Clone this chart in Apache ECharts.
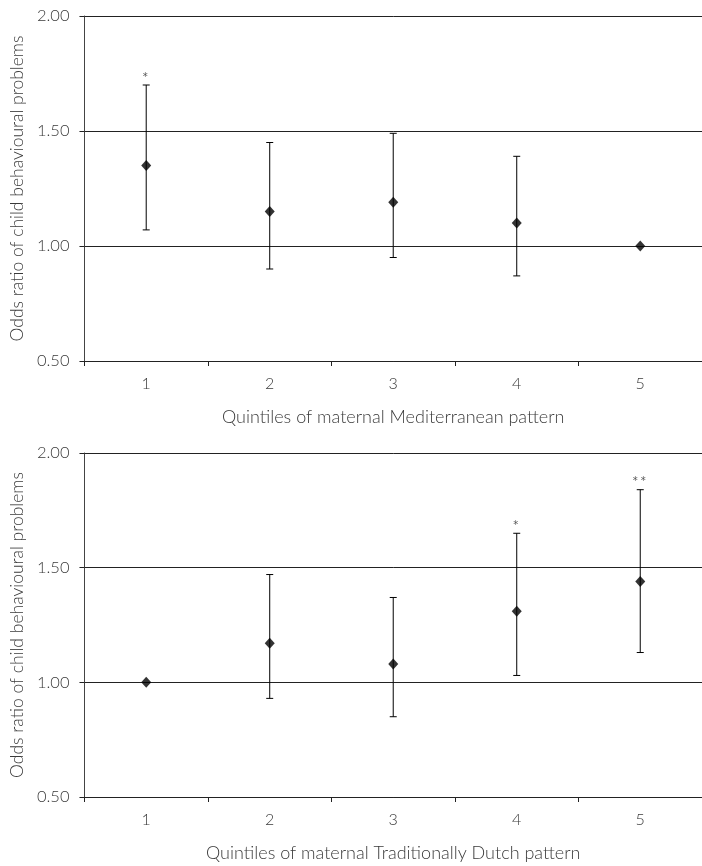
<!DOCTYPE html>
<html>
<head>
<meta charset="utf-8">
<script src="https://cdn.jsdelivr.net/npm/echarts@6/dist/echarts.min.js"></script>
<style>
  html, body { margin: 0; padding: 0; background: #fff; }
  #chart { width: 702px; height: 866px; }
</style>
</head>
<body>
<div id="chart"></div>
<script>
// data
const quintiles = ['1', '2', '3', '4', '5']
const yTicks = [0.5, 1.0, 1.5, 2.0]

const medOR = [1.35, 1.15, 1.19, 1.10, 1.00]
const medLo = [1.07, 0.90, 0.95, 0.87, null]
const medHi = [1.70, 1.45, 1.49, 1.39, null]
const medSig = ['*', '', '', '', '']

const dutchOR = [1.00, 1.17, 1.08, 1.31, 1.44]
const dutchLo = [null, 0.93, 0.85, 1.03, 1.13]
const dutchHi = [null, 1.47, 1.37, 1.65, 1.84]
const dutchSig = ['', '', '', '*', '**']

const FONT = 'Lato'
const TXT = '#3a3a3a'

const chart = echarts.init(document.getElementById('chart'))

const xAxisFor = (gridIndex, name) => ({
    type: 'category',
    gridIndex: gridIndex,
    data: quintiles,
    boundaryGap: true,
    name: name,
    nameLocation: 'middle',
    nameGap: 47,
    nameTextStyle: { color: TXT, fontFamily: FONT, fontWeight: 300, fontSize: 18 },
    axisLine: { show: true, lineStyle: { color: '#222', width: 1 } },
    axisTick: { show: true, length: 5, inside: false, alignWithLabel: false, lineStyle: { color: '#222' } },
    axisLabel: { color: TXT, fontFamily: FONT, fontWeight: 300, fontSize: 16, margin: 15 },
    splitLine: { show: false },
})

const yAxisFor = (gridIndex) => ({
    type: 'value',
    gridIndex: gridIndex,
    min: yTicks[0],
    max: yTicks[yTicks.length - 1],
    interval: 0.5,
    name: 'Odds ratio of child behavioural problems',
    nameLocation: 'middle',
    nameGap: 56,
    nameTextStyle: { color: TXT, fontFamily: FONT, fontWeight: 300, fontSize: 17.5 },
    axisLine: { show: true, lineStyle: { color: '#444', width: 1 } },
    axisTick: { show: true, length: 5, inside: false, lineStyle: { color: '#222' } },
    axisLabel: {
        color: TXT, fontFamily: FONT, fontWeight: 300, fontSize: 16.5, margin: 15,
        formatter: (v) => v.toFixed(2),
    },
    splitLine: { show: true, lineStyle: { color: '#222', width: 1 } },
})

// error bars + significance stars, drawn through the axis scales
const errorSeries = (idx, lo, hi, sig) => ({
    type: 'custom',
    xAxisIndex: idx,
    yAxisIndex: idx,
    z: 3,
    data: quintiles.map((q, i) => [i, lo[i], hi[i], sig[i]]),
    renderItem: function (params, api) {
        const i = api.value(0)
        const l = lo[i]
        const h = hi[i]
        if (l == null || h == null) return null
        const top = api.coord([i, h])
        const bot = api.coord([i, l])
        const cap = 3.5
        const style = { stroke: '#000', lineWidth: 1 }
        const children = [
            { type: 'line', shape: { x1: top[0], y1: top[1], x2: bot[0], y2: bot[1] }, style: style },
            { type: 'line', shape: { x1: top[0] - cap, y1: top[1], x2: top[0] + cap, y2: top[1] }, style: style },
            { type: 'line', shape: { x1: bot[0] - cap, y1: bot[1], x2: bot[0] + cap, y2: bot[1] }, style: style },
        ]
        if (sig[i]) {
            children.push({
                type: 'text',
                style: {
                    text: sig[i].split('').join(' '), x: top[0] - 1, y: top[1] - 8,
                    align: 'center', verticalAlign: 'middle',
                    fill: '#555', fontSize: 10, fontFamily: 'DejaVu Sans',
                },
            })
        }
        return { type: 'group', children: children }
    },
})

const pointSeries = (idx, values) => ({
    type: 'scatter',
    xAxisIndex: idx,
    yAxisIndex: idx,
    z: 5,
    symbol: 'diamond',
    symbolSize: [10, 11],
    itemStyle: { color: '#000' },
    data: values,
})

chart.setOption({
    animation: false,
    backgroundColor: '#fff',
    grid: [
        { left: 84, top: 16, width: 620, height: 345 },
        { left: 84, top: 453, width: 620, height: 344 },
    ],
    xAxis: [
        xAxisFor(0, 'Quintiles of maternal Mediterranean pattern'),
        xAxisFor(1, 'Quintiles of maternal Traditionally Dutch pattern'),
    ],
    yAxis: [yAxisFor(0), yAxisFor(1)],
    series: [
        errorSeries(0, medLo, medHi, medSig),
        pointSeries(0, medOR),
        errorSeries(1, dutchLo, dutchHi, dutchSig),
        pointSeries(1, dutchOR),
    ],
})
</script>
</body>
</html>
